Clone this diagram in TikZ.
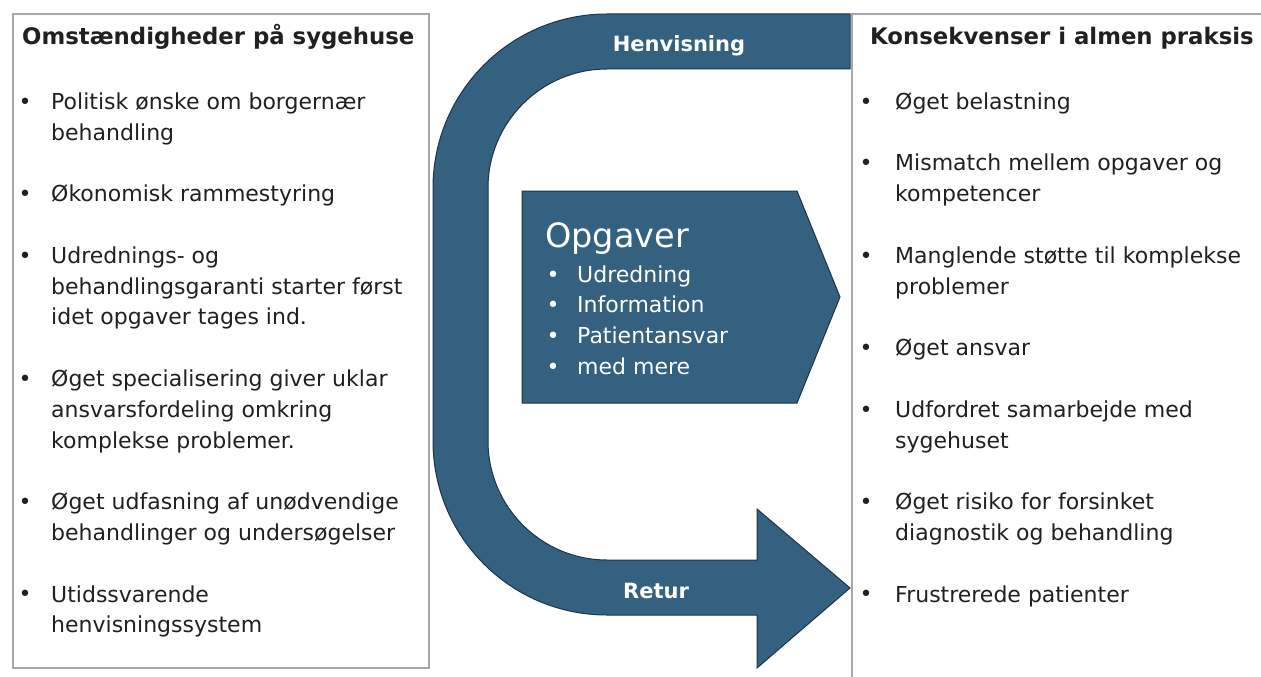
\documentclass[tikz,border=0pt]{standalone}
\usepackage{fontspec}
\setmainfont{DejaVu Sans}
\usetikzlibrary{positioning}

\definecolor{pilblaa}{RGB}{51,97,127}
\definecolor{pilkant}{RGB}{30,52,70}
\definecolor{rammegraa}{RGB}{168,168,172}
\definecolor{tekstsort}{RGB}{32,32,32}

\tikzset{
  ramme/.style={draw=rammegraa, line width=1.4pt},
  pilform/.style={fill=pilblaa, draw=pilkant, line width=1pt},
  overskrift/.style={anchor=base west, inner sep=0pt, text=tekstsort,
    font=\bfseries\fontsize{22.8}{30}\selectfont},
  punkt/.style={anchor=north west, inner sep=0pt, align=left, yshift=21.56pt,
    text=tekstsort, font=\fontsize{22}{30.8}\selectfont},
  prik/.style={anchor=base, inner sep=0pt, text=tekstsort,
    font=\fontsize{22}{30.8}\selectfont},
  pilnavn/.style={anchor=base, inner sep=0pt, text=white,
    font=\bfseries\fontsize{21}{26}\selectfont},
  hvidtekst/.style={anchor=base west, inner sep=0pt, text=white,
    font=\fontsize{22}{30.8}\selectfont},
}

\begin{document}
\begin{tikzpicture}[x=1pt, y=-1pt]
\useasboundingbox (0,0) rectangle (1261,677);

\def\L{30.8}  % linjeafstand
\def\Y{109}   % foerste grundlinje

% Rammer
\draw[ramme] (13,14) rectangle (429,668);
\draw[ramme] (1261,14) -- (852,14) -- (852,677);

% ---- Stor pil: Henvisning -> Retur ----
\draw[pilform] (850,14) -- (607,14)
  arc[start angle=90, end angle=180, radius=174pt] -- (433,441)
  arc[start angle=180, end angle=270, radius=174pt] -- (757,615)
  -- (757,668) -- (850,588) -- (757,509) -- (757,560) -- (607,560)
  arc[start angle=270, end angle=180, radius=119pt] -- (488,188)
  arc[start angle=180, end angle=90, radius=119pt] -- (850,69) -- cycle;
\node[pilnavn] (henvisning) at (679,52) {Henvisning};
\node[pilnavn] (retur) at (656,598) {Retur};

% ---- Opgaver ----
\draw[pilform] (522,191) -- (797,191) -- (840,297) -- (797,403) -- (522,403) -- cycle;
\node[hvidtekst, font=\fontsize{33.5}{40}\selectfont] (opgaver) at (545,247) {Opgaver};
\foreach \k/\tekst in {0/Udredning, 1/Information, 2/Patientansvar, 3/med mere}{
  \node[prik, text=white] (oprik\k) at (553,{282+30.7*\k}) {•};
  \node[hvidtekst] (op\k) at (577,{282+30.7*\k}) {\tekst};
}

% ---- Venstre: Omstaendigheder ----
\node[overskrift] (vtitel) at (22,45) {Omstændigheder på sygehuse};
\foreach \k/\tekst [count=\i] in {0/Politisk ønske om borgernær\\behandling,
    3/Økonomisk rammestyring,
    5/Udrednings- og\\behandlingsgaranti starter først\\idet opgaver tages ind.,
    9/Øget specialisering giver uklar\\ansvarsfordeling omkring\\komplekse problemer.,
    13/Øget udfasning af unødvendige\\behandlinger og undersøgelser,
    16/Utidssvarende\\henvisningssystem}{
  \node[prik] (vprik\i) at (25,{\Y+\L*\k}) {•};
  \node[punkt] (v\i) at (51,{\Y+\L*\k}) {\strut\tekst};
}

% ---- Hoejre: Konsekvenser ----
\node[overskrift] (htitel) at (870,45) {Konsekvenser i almen praksis};
\foreach \k/\tekst [count=\i] in {0/Øget belastning,
    2/Mismatch mellem opgaver og\\kompetencer,
    5/Manglende støtte til komplekse\\problemer,
    8/Øget ansvar,
    10/Udfordret samarbejde med\\sygehuset,
    13/Øget risiko for forsinket\\diagnostik og behandling,
    16/Frustrerede patienter}{
  \node[prik] (hprik\i) at (866,{\Y+\L*\k}) {•};
  \node[punkt] (h\i) at (895,{\Y+\L*\k}) {\strut\tekst};
}

\end{tikzpicture}
\end{document}
